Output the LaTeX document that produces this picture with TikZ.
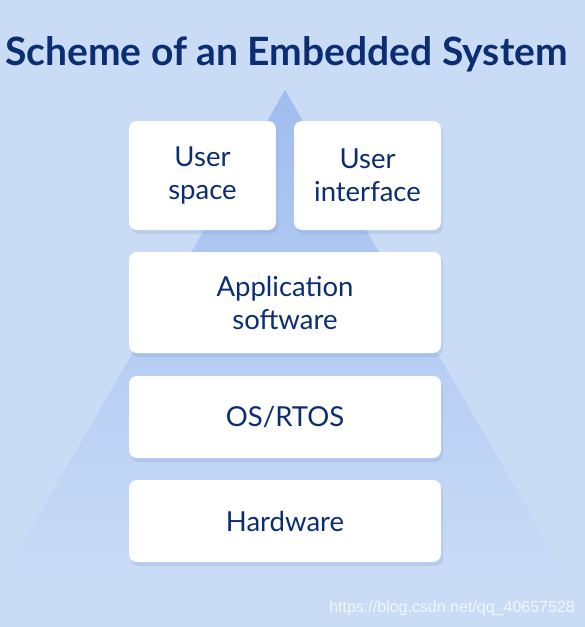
\documentclass[tikz,border=0pt]{standalone}
\usepackage{fontspec}
\setmainfont{Lato}
\newfontfamily\markfont{Liberation Sans}
\usepackage{tikz}
\usetikzlibrary{shadows}

\definecolor{bgblue}{RGB}{202,220,245}
\definecolor{pyrtop}{RGB}{160,189,240}
\definecolor{pyrbot}{RGB}{200,218,246}
\definecolor{navy}{RGB}{11,45,114}

\begin{document}
\begin{tikzpicture}[x=1pt,y=-1pt]

\tikzstyle{layer} = [rectangle, fill=white, rounded corners=8pt, text=navy, align=center,
  font=\fontsize{27.5}{33}\selectfont, inner sep=0pt,
  drop shadow={shadow xshift=2pt, shadow yshift=-4pt, fill=navy!30!pyrtop, opacity=0.2}]

%Background
\fill[bgblue] (0,0) rectangle (585,627);
\useasboundingbox (0,0) rectangle (585,627);

%Pyramid
\shade[top color=pyrtop, bottom color=pyrbot] (285,90) -- (560,565) -- (10,565) -- cycle;

%Title
\node[anchor=base west, text=navy, font=\fontsize{39}{44}\bfseries\selectfont, inner sep=0pt]
  (title) at (5,65) {Scheme of an Embedded System};

%Top row
\node[layer, minimum width=147pt, minimum height=109pt] (userspace) at (202.5,175.5) {User\\space};
\node[layer, minimum width=147pt, minimum height=109pt] (userif) at (367.5,175.5) {User\\interface};

%Lower layers
\node[layer, minimum width=312pt, minimum height=101pt] (app) at (285,302.5) {Application\\software};
\node[layer, minimum width=312pt, minimum height=82pt] (os) at (285,417) {OS/RTOS};
\node[layer, minimum width=312pt, minimum height=82pt] (hw) at (285,521) {Hardware};

%Watermark
\node[anchor=base east, text=white, opacity=0.75, font=\markfont\fontsize{16}{18}\selectfont, inner sep=0pt]
  (mark) at (575,612) {https://blog.csdn.net/qq\_40657528};

\end{tikzpicture}
\end{document}
